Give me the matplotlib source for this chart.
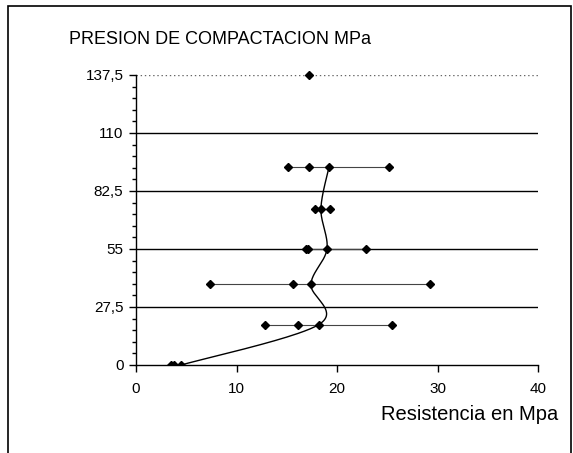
import numpy as np
import matplotlib
matplotlib.use('Agg')
import matplotlib.pyplot as plt
from matplotlib.patches import Rectangle
from matplotlib.ticker import MultipleLocator

plt.rcParams['font.family'] = ['Liberation Sans', 'DejaVu Sans']

# Presion de compactacion (MPa) de cada grupo de ensayos
presion = [0, 19.2, 38.4, 55, 74, 93.7]

# Resistencia (MPa) de cada probeta por nivel de presion
resistencia = [
    [3.5, 3.8, 4.5],
    [12.8, 16.1, 18.2, 25.5],
    [7.4, 15.6, 17.4, 29.3],
    [16.9, 17.1, 19.0, 22.9],
    [17.8, 18.4, 19.3],
    [15.1, 17.2, 19.2, 25.2],
]

# Valor central de cada grupo (curva suavizada)
curva_x = [4.5, 18.2, 17.4, 19.0, 18.4, 19.2]

# Punto aislado arriba
punto_x = [17.2]
punto_y = [137.5]

y_ticks = [0, 27.5, 55, 82.5, 110, 137.5]
y_labels = ['0', '27,5', '55', '82,5', '110', '137,5']
x_ticks = [0, 10, 20, 30, 40]


# Excel-like smoothed line (Bezier through points, done in pixel space)
def smooth_line(xs, ys, sx, sy, n=40):
    p = np.column_stack([np.array(xs) * sx, np.array(ys) * sy])
    out = []
    for i in range(len(p) - 1):
        p0 = p[i - 1] if i > 0 else p[i]
        p1 = p[i]
        p2 = p[i + 1]
        p3 = p[i + 2] if i + 2 < len(p) else p[i + 1]
        c1 = p1 + (p2 - p0) / 6
        c2 = p2 - (p3 - p1) / 6
        t = np.linspace(0, 1, n)[:, None]
        seg = ((1 - t) ** 3) * p1 + 3 * ((1 - t) ** 2) * t * c1 + 3 * (1 - t) * t ** 2 * c2 + t ** 3 * p2
        out.append(seg)
    out = np.vstack(out)
    return out[:, 0] / sx, out[:, 1] / sy


fig = plt.figure(figsize=(5.73, 4.53), dpi=100)
ax = fig.add_axes([136 / 573, 1 - 365 / 453, 402 / 573, 290 / 453])

# outer frame
fig.patches.append(Rectangle((8 / 573, -0.05), 563 / 573, 1.05 - 6 / 453,
                             transform=fig.transFigure, fill=False,
                             edgecolor='black', linewidth=1.2))

ax.set_xlim(0, 40)
ax.set_ylim(0, 137.5)

# gridlines
for yv in y_ticks[1:-1]:
    ax.axhline(yv, color='black', linewidth=1.0, zorder=1)
ax.axhline(y_ticks[-1], color='#666666', linewidth=1.0, linestyle=(0, (1, 2)), zorder=1)

# horizontal lines for each group
for yv, vals in zip(presion, resistencia):
    ax.plot(vals, [yv] * len(vals), color='#444444', linewidth=0.8,
            marker='D', markersize=3.8, markerfacecolor='black',
            markeredgecolor='black', zorder=3)

# smoothed central curve
sx_, sy_ = smooth_line(curva_x, presion, 10.05, 2.109)
ax.plot(sx_, sy_, color='black', linewidth=1.0, zorder=2)

ax.plot(punto_x, punto_y, linestyle='none', marker='D', markersize=4.5,
        color='black', clip_on=False, zorder=4)

for s in ['top', 'right']:
    ax.spines[s].set_visible(False)
for s in ['left', 'bottom']:
    ax.spines[s].set_linewidth(1.0)

ax.set_yticks(y_ticks)
ax.set_yticklabels(y_labels)
ax.yaxis.set_minor_locator(MultipleLocator(5.5))
ax.set_xticks(x_ticks)
ax.tick_params(axis='both', which='major', direction='out', length=5,
               width=1, labelsize=11)
ax.tick_params(axis='y', which='major', pad=4)
ax.tick_params(axis='x', which='major', pad=7)
ax.tick_params(axis='y', which='minor', direction='out', length=3, width=1)

fig.text(69 / 573, 1 - 40 / 453, 'PRESION DE COMPACTACION MPa',
         fontsize=13, va='center', ha='left')
fig.text(558 / 573, 1 - 414 / 453, 'Resistencia en Mpa',
         fontsize=14.5, va='center', ha='right')

fig.savefig('out.png', dpi=100)
